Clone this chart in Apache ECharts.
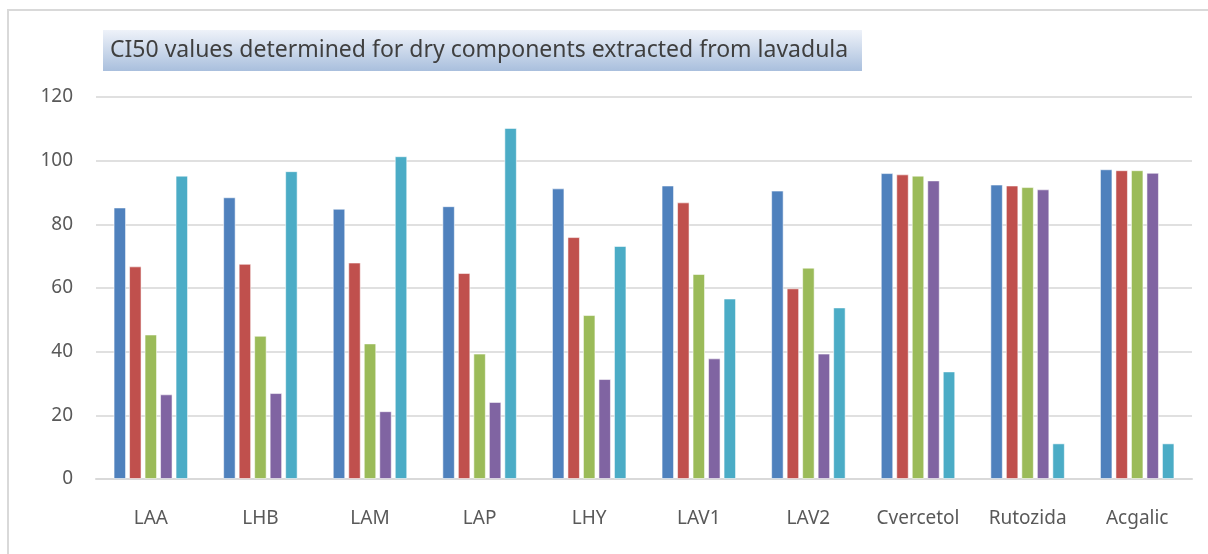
<!DOCTYPE html>
<html>
<head>
<meta charset="utf-8">
<script src="https://cdn.jsdelivr.net/npm/echarts@6/dist/echarts.min.js"></script>
<style>
html, body { margin: 0; padding: 0; background: #fff; }
#main { width: 1208px; height: 554px; }
</style>
</head>
<body>
<div id="main"></div>
<script>
// categories and series values
const categories = ['LAA', 'LHB', 'LAM', 'LAP', 'LHY', 'LAV1', 'LAV2', 'Cvercetol', 'Rutozida', 'Acgalic'];
const series1 = [85.3, 88.5, 84.9, 85.7, 91.3, 92.2, 90.6, 96.1, 92.5, 97.3];
const series2 = [66.8, 67.6, 68.0, 64.7, 76.0, 86.9, 59.9, 95.7, 92.2, 97.0];
const series3 = [45.4, 45.0, 42.6, 39.4, 51.5, 64.4, 66.4, 95.3, 91.7, 97.0];
const series4 = [26.6, 27.0, 21.3, 24.2, 31.4, 37.9, 39.4, 93.8, 91.0, 96.2];
const series5 = [95.3, 96.7, 101.4, 110.3, 73.2, 56.7, 53.9, 33.8, 11.2, 11.2];
const yTicks = [0, 20, 40, 60, 80, 100, 120];

const colors = ['#4F81BD', '#C0504D', '#9BBB59', '#8064A2', '#4BACC6'];
const allSeries = [series1, series2, series3, series4, series5];

const myChart = echarts.init(document.getElementById('main'));

const option = {
  animation: false,
  color: colors,
  title: {
    text: 'CI50 values determined for dry components extracted from lavadula',
    left: 110,
    top: 38,
    padding: 0,
    textStyle: {
      fontFamily: 'Noto Sans',
      fontWeight: 'normal',
      fontSize: 23,
      lineHeight: 25,
      color: '#3f3f3f'
    }
  },
  graphic: [
    {
      type: 'rect',
      z: -1,
      shape: { x: 103, y: 30, width: 759, height: 41 },
      style: {
        fill: new echarts.graphic.LinearGradient(0, 0, 0, 1, [
          { offset: 0, color: '#eef2f9' },
          { offset: 1, color: '#a9bfdd' }
        ])
      }
    },
    {
      type: 'polyline',
      shape: { points: [[8, 554], [8, 10], [1208, 10]] },
      style: { stroke: '#d9d9d9', lineWidth: 2, fill: null }
    }
  ],
  grid: {
    left: 96,
    right: 16,
    top: 97,
    bottom: 75
  },
  xAxis: {
    type: 'category',
    data: categories,
    axisTick: { show: false },
    axisLine: { lineStyle: { color: '#d9d9d9', width: 2 } },
    axisLabel: {
      margin: 30,
      fontFamily: 'Noto Sans',
      fontSize: 19,
      color: '#595959'
    }
  },
  yAxis: {
    type: 'value',
    min: yTicks[0],
    max: yTicks[yTicks.length - 1],
    interval: 20,
    axisLine: { show: false },
    axisTick: { show: false },
    splitLine: { lineStyle: { color: '#e0e0e0', width: 2 } },
    axisLabel: {
      margin: 23,
      fontFamily: 'Noto Sans',
      fontSize: 19,
      color: '#595959'
    }
  },
  series: allSeries.map((d, i) => ({
    name: 'Series ' + (i + 1),
    type: 'bar',
    data: d,
    barWidth: 12.5,
    barGap: '24%',
    itemStyle: {
      color: colors[i],
      borderColor: 'rgba(255,255,255,0.55)',
      borderWidth: 1
    }
  }))
};

myChart.setOption(option);
</script>
</body>
</html>
